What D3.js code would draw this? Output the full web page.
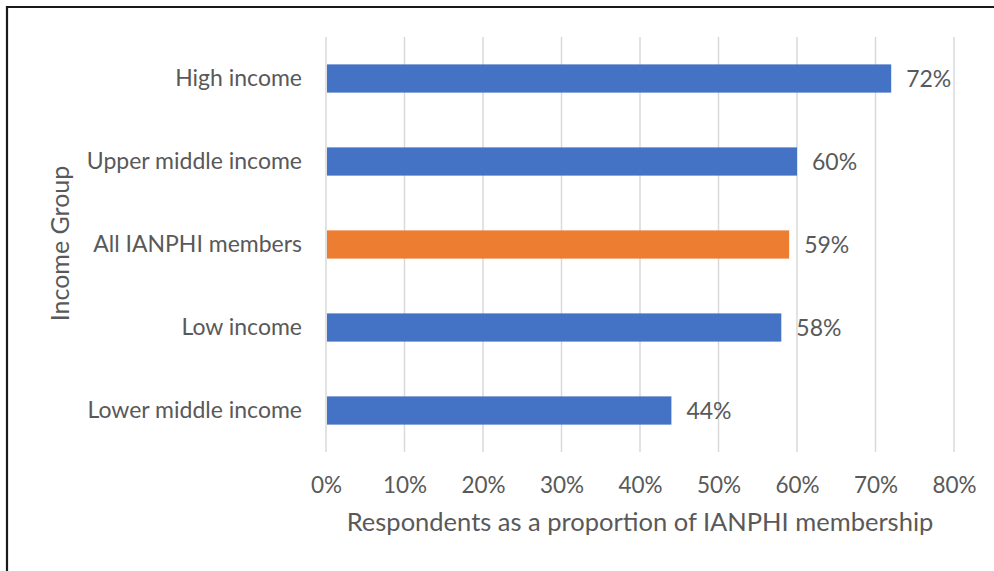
<!DOCTYPE html>
<html>
<head>
<meta charset="utf-8">
<script src="https://cdn.jsdelivr.net/npm/d3@7"></script>
<style>
  html, body { margin: 0; padding: 0; background: #fff; }
  svg { display: block; }
  text { font-family: Lato, "Open Sans", sans-serif; fill: #595959; }
</style>
</head>
<body>
<svg id="chart" width="994" height="571"></svg>
<script>
// Income groups, top to bottom
const categories = ["High income", "Upper middle income", "All IANPHI members", "Low income", "Lower middle income"];
// Share of IANPHI membership that responded
const values = [0.72, 0.60, 0.59, 0.58, 0.44];
// The aggregate row is highlighted
const highlight = ["All IANPHI members"];
const tickValues = [0, 0.1, 0.2, 0.3, 0.4, 0.5, 0.6, 0.7, 0.8];
const xTitle = "Respondents as a proportion of IANPHI membership";
const yTitle = "Income Group";

const svg = d3.select("#chart");
const margin = { left: 326, right: 40, top: 37, bottom: 119 };
const W = 994, H = 571;
const font = "Lato, 'Open Sans', sans-serif";

// frame: left and top edges of the chart box
svg.append("path")
  .attr("d", `M7,${H} V7 H${W}`)
  .attr("fill", "none")
  .attr("stroke", "#1a1a1a")
  .attr("stroke-width", 2.2);

const x = d3.scaleLinear().domain([0, 0.8]).range([margin.left, 954]);
const y = d3.scaleBand().domain(categories)
  .range([margin.top, H - margin.bottom])
  .paddingInner(0.66).paddingOuter(0.33);

// vertical gridlines
svg.append("g").selectAll("line").data(tickValues).join("line")
  .attr("x1", d => x(d)).attr("x2", d => x(d))
  .attr("y1", margin.top).attr("y2", H - margin.bottom)
  .attr("stroke", "#d9d9d9").attr("stroke-width", 1.5);

// x axis tick labels
const xAxis = d3.axisBottom(x).tickValues(tickValues)
  .tickFormat(d3.format(".0%")).tickSize(0).tickPadding(0);
const gx = svg.append("g")
  .attr("transform", `translate(0,${H - margin.bottom + 41})`)
  .call(xAxis);
gx.select(".domain").remove();
gx.selectAll("text").attr("font-size", 22.5).attr("fill", "#595959")
  .attr("font-family", font).attr("dy", 0);

// y axis category labels
const yAxis = d3.axisLeft(y).tickSize(0).tickPadding(24);
const gy = svg.append("g")
  .attr("transform", `translate(${margin.left},0)`)
  .call(yAxis);
gy.select(".domain").remove();
gy.selectAll("text").attr("font-size", 23).attr("fill", "#595959")
  .attr("font-family", font);

// bars
svg.append("g").selectAll("rect").data(categories).join("rect")
  .attr("x", x(0) + 1)
  .attr("y", d => y(d))
  .attr("width", (d, i) => x(values[i]) - x(0) - 1)
  .attr("height", y.bandwidth())
  .attr("fill", d => highlight.includes(d) ? "#ED7D31" : "#4472C4");

// value labels
svg.append("g").selectAll("text").data(categories).join("text")
  .attr("x", (d, i) => x(values[i]) + 15)
  .attr("y", d => y(d) + y.bandwidth() / 2)
  .attr("dy", "0.35em")
  .attr("font-size", 23)
  .text((d, i) => d3.format(".0%")(values[i]));

// axis titles
svg.append("text")
  .attr("x", (x(0) + x(0.8)) / 2)
  .attr("y", 531)
  .attr("text-anchor", "middle")
  .attr("font-size", 25.5)
  .text(xTitle);

svg.append("text")
  .attr("transform", `translate(69,${(margin.top + H - margin.bottom) / 2 - 1}) rotate(-90)`)
  .attr("text-anchor", "middle")
  .attr("font-size", 25)
  .text(yTitle);
</script>
</body>
</html>
